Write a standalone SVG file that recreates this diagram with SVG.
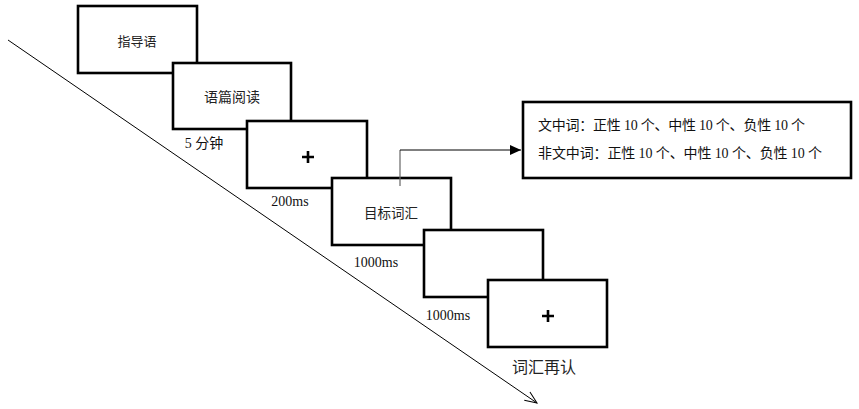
<svg xmlns="http://www.w3.org/2000/svg" width="859" height="409" viewBox="0 0 859 409">
<style>
.box{fill:#fff;stroke:#000;stroke-width:2.6}
.cn{font-family:"Noto Sans CJK SC","Noto Sans",sans-serif;fill:#222;text-anchor:middle;dominant-baseline:central}
.lbl{font-family:"Liberation Serif","Noto Sans CJK SC",serif;fill:#111;text-anchor:middle;dominant-baseline:central;font-size:14px}
.info{font-family:"Liberation Serif","Noto Sans CJK SC",serif;fill:#111;dominant-baseline:central;font-size:14px}
.plus{stroke:#000;stroke-width:2.6}
.line{fill:none;stroke:#000;stroke-width:1}
</style>
<defs>
<marker id="open" markerWidth="14" markerHeight="12" refX="13" refY="6" orient="auto" markerUnits="userSpaceOnUse">
<path d="M1,1 L13,6 L1,11" fill="none" stroke="#000" stroke-width="1"/>
</marker>
<marker id="solid" markerWidth="12" markerHeight="12" refX="11" refY="6" orient="auto" markerUnits="userSpaceOnUse">
<path d="M0,1 L11,6 L0,11 Z" fill="#000"/>
</marker>
</defs>
<g id="connectors">
<line class="line" x1="8" y1="40" x2="537" y2="403" marker-end="url(#open)"/>
</g>
<g id="n1"><rect class="box" x="78" y="6" width="119" height="67"/><text class="cn" x="137" y="40" font-size="13">指导语</text></g>
<g id="n2"><rect class="box" x="173" y="63" width="118" height="66"/><text class="cn" x="232" y="96" font-size="14">语篇阅读</text></g>
<g id="n3"><rect class="box" x="247" y="121" width="120" height="67"/><path class="plus" d="M302,157 H314 M308,151 V163"/></g>
<g id="n4"><rect class="box" x="332" y="178" width="119" height="67"/><text class="cn" x="391" y="212" font-size="13.5">目标词汇</text></g>
<g id="n5"><rect class="box" x="424" y="230" width="119" height="67"/></g>
<g id="n6"><rect class="box" x="488" y="280" width="119" height="67"/><path class="plus" d="M542,316 H554 M548,310 V322"/></g>
<g id="n7"><rect class="box" x="523" y="102" width="328" height="76"/>
<text class="info" x="538" y="125" textLength="267" lengthAdjust="spacing">文中词：正性 10 个、中性 10 个、负性 10 个</text>
<text class="info" x="538" y="153" textLength="284" lengthAdjust="spacing">非文中词：正性 10 个、中性 10 个、负性 10 个</text>
</g>
<g id="labels">
<text class="lbl" x="204" y="143">5 分钟</text>
<text class="lbl" x="290" y="201">200ms</text>
<text class="lbl" x="376" y="262">1000ms</text>
<text class="lbl" x="448" y="315">1000ms</text>
<text class="cn" x="544" y="366" font-size="16">词汇再认</text>
</g>
<g id="connector-arrow">
<path d="M400,186 V150" fill="none" stroke="#666" stroke-width="1.2"/>
<path class="line" d="M400,150 H521" marker-end="url(#solid)"/>
</g>
</svg>
